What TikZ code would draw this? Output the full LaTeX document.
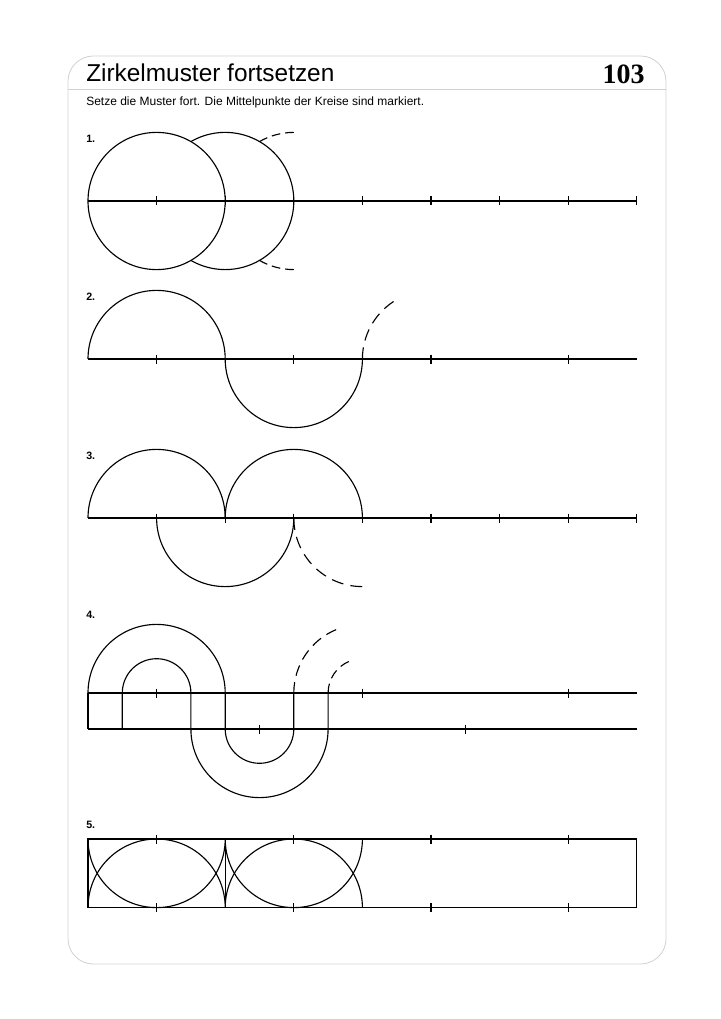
\documentclass[tikz,border=0pt]{standalone}
\usepackage{fontspec}
\setmainfont{Liberation Sans}
\newfontfamily\serifnum{Liberation Serif}
\begin{document}
\begin{tikzpicture}[x=0.75pt,y=0.75pt,
  lw/.style={line width=0.85pt,black},
  dsh/.style 2 args={line width=0.85pt,black,dash pattern=on #1pt off #2pt},
  tk/.style={line width=0.85pt,black},
  lbl/.style={anchor=base west,inner sep=0pt,font=\bfseries\fontsize{8}{9}\selectfont},
  frm/.style={line width=0.6pt,draw=black!18}]
\useasboundingbox (0,0) rectangle (720,-1019);
% frame
\draw[frm,rounded corners=19pt] (68,-56) rectangle (666,-964);
\draw[frm] (68,-89) -- (666,-89);
\node[anchor=base west,inner sep=0pt,font=\fontsize{18.3}{20}\selectfont] (title) at (86,-82) {Zirkelmuster fortsetzen};
\node[anchor=base east,inner sep=0pt,font=\serifnum\bfseries\fontsize{21}{23}\selectfont] (num) at (645,-84) {103};
\node[anchor=base west,inner sep=0pt,font=\fontsize{9}{10}\selectfont] (sub) at (86,-105.5) {Setze die Muster fort. Die Mittelpunkte der Kreise sind markiert.};
\node[lbl] (l1) at (86,-142.5) {1.};
\node[lbl] (l2) at (86,-300.5) {2.};
\node[lbl] (l3) at (86,-459.5) {3.};
\node[lbl] (l4) at (86,-618.5) {4.};
\node[lbl] (l5) at (86,-828.5) {5.};
% ---- pattern 1
\draw[lw] (88,-201) -- (636.8,-201);
\foreach \x in {156.6,225.2,293.8,362.4,431,499.6,568.2,636.8}
  \draw[tk] (\x,-196.5) -- (\x,-205.5);
\draw[lw] (156.6,-201) circle[radius=68.6];
\draw[lw] (190.9,-141.59) arc[start angle=120,end angle=-120,radius=68.6];
\draw[dsh={6.5}{3.7}] (259.5,-141.59) arc[start angle=120,end angle=90,radius=68.6];
\draw[dsh={6.5}{3.7}] (259.5,-260.41) arc[start angle=240,end angle=270,radius=68.6];
% ---- pattern 2
\draw[lw] (88,-359) -- (636.8,-359);
\foreach \x in {156.6,293.8,431,568.2}
  \draw[tk] (\x,-354.5) -- (\x,-363.5);
\draw[lw] (88,-359) arc[start angle=180,end angle=0,radius=68.6]
  arc[start angle=180,end angle=360,radius=68.6];
\draw[dsh={8.8}{5.3}] (362.4,-359) arc[start angle=180,end angle=123,radius=68.6];
% ---- pattern 3
\draw[lw] (88,-518) -- (636.8,-518);
\foreach \x in {156.6,225.2,293.8,362.4,431,499.6,568.2,636.8}
  \draw[tk] (\x,-513.5) -- (\x,-522.5);
\draw[lw] (88,-518) arc[start angle=180,end angle=0,radius=68.6];
\draw[lw] (225.2,-518) arc[start angle=180,end angle=0,radius=68.6];
\draw[lw] (156.6,-518) arc[start angle=180,end angle=360,radius=68.6];
\draw[dsh={8.95}{5.4}] (293.8,-518) arc[start angle=180,end angle=270,radius=68.6];
% ---- pattern 4
\draw[lw] (88,-693) -- (636.8,-693);
\draw[lw] (88,-729) -- (636.8,-729);
\draw[lw] (88,-693) -- (88,-729);
\foreach \x in {156.6,362.4,568.2}
  \draw[tk] (\x,-688.5) -- (\x,-697.5);
\foreach \x in {259.5,465.3}
  \draw[tk] (\x,-724.5) -- (\x,-733.5);
\draw[lw] (88,-693) arc[start angle=180,end angle=0,radius=68.6];
\draw[lw] (122.3,-729) -- (122.3,-693) arc[start angle=180,end angle=0,radius=34.3]
  -- (190.9,-729) arc[start angle=180,end angle=360,radius=68.6] -- (328.1,-693);
\draw[lw] (225.2,-693) -- (225.2,-729) arc[start angle=180,end angle=360,radius=34.3] -- (293.8,-693);
\draw[dsh={8.2}{4.9}] (293.8,-693) arc[start angle=180,end angle=112,radius=68.6];
\draw[dsh={7.1}{4.3}] (328.1,-693) arc[start angle=180,end angle=113,radius=34.3];
% ---- pattern 5
\draw[lw] (88,-839) rectangle (636.8,-907.6);
\draw[lw] (225.2,-839) -- (225.2,-907.6);
\foreach \x in {156.6,293.8,431,568.2}{
  \draw[tk] (\x,-834.5) -- (\x,-843.5);
  \draw[tk] (\x,-903.1) -- (\x,-912.1);}
\draw[lw] (88,-839) arc[start angle=180,end angle=360,radius=68.6]
  arc[start angle=180,end angle=360,radius=68.6];
\draw[lw] (88,-907.6) arc[start angle=180,end angle=0,radius=68.6]
  arc[start angle=180,end angle=0,radius=68.6];
\end{tikzpicture}
\end{document}
